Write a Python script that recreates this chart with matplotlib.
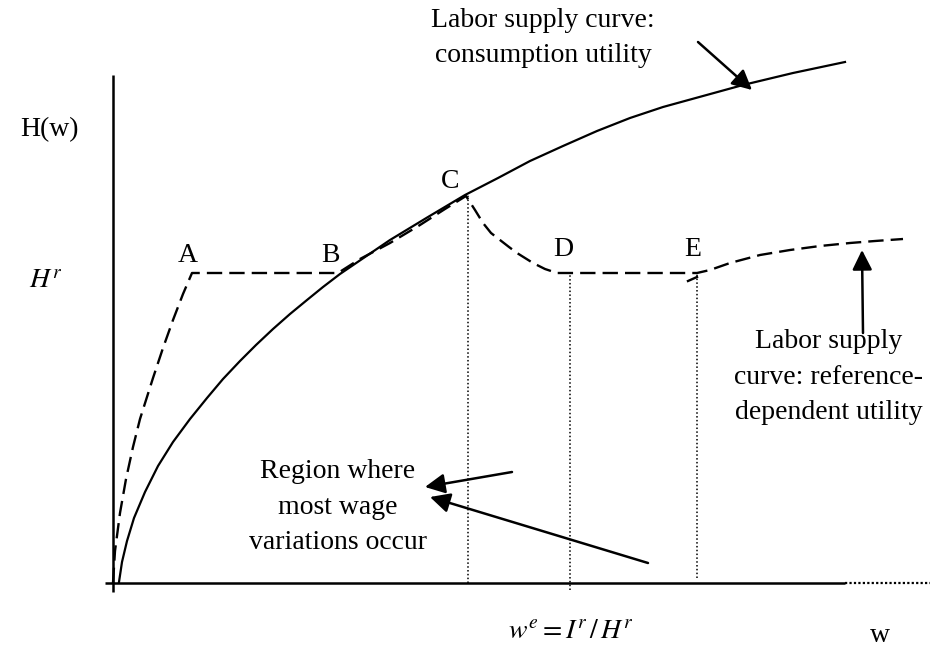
import matplotlib
matplotlib.use("Agg")
import matplotlib.pyplot as plt

plt.rcParams['font.family'] = ['Liberation Serif', 'DejaVu Serif']
plt.rcParams['mathtext.fontset'] = 'stix'

# ---- data (wage w, hours H) ----
consumption_w = [6, 9, 14, 21, 32, 45, 60, 77, 94, 110, 127, 143, 160, 177, 194, 210, 227, 252, 277,
                 315, 352, 385, 417, 450, 484, 517, 550, 590, 630, 680, 732]
consumption_H = [1, 21, 42, 65, 91, 117, 141, 164, 185, 204, 222, 238, 254, 269, 283, 296, 309, 326, 343,
                 366, 388, 405, 422, 437, 452, 465, 476, 487, 498, 510, 521]

reference_w = [0, 2, 7, 13, 20, 27, 40, 50, 60, 70, 79, 225, 247, 277, 307, 332, 353,
               362, 370, 378, 387, 396, 404, 420, 432, 444, 455, 584, 597, 617, 647, 677, 707, 737, 762, 790]
reference_H = [0, 32, 70, 104, 136, 164, 205, 235, 263, 289, 310, 310, 324, 340, 358, 374, 387,
               373, 360, 350, 343, 336, 330, 320, 314, 310, 310, 310, 313, 320, 328, 333, 337, 340, 342, 344]

stub_w = [575, 584]
stub_H = [302, 306]

# dotted guides: (w, top H, bottom H)
guide_w = [355, 457, 584]
guide_top = [388, 310, 310]
guide_bottom = [0, -7, 5]

point_labels = ['A', 'B', 'C', 'D', 'E']
point_w = [75, 217, 337, 450, 580]
point_H = [328, 328, 401, 333, 333]

fig = plt.figure(figsize=(9.42, 6.52), dpi=100)
ax = fig.add_axes([0, 0, 1, 1])
ax.set_xlim(-113, 829)
ax.set_ylim(-69, 583)
ax.axis('off')

# axes
ax.plot([0, 0], [-9, 508], color='black', lw=1.8, solid_capstyle='butt')
ax.plot([-8, 732], [0, 0], color='black', lw=1.8, solid_capstyle='butt')
ax.plot([732, 817], [0, 0], color='black', lw=1.6, linestyle=(0, (1, 1)))

# curves
ax.plot(consumption_w, consumption_H, color='black', lw=1.6)
ax.plot(reference_w, reference_H, color='black', lw=1.7, linestyle=(0, (6.5, 3)))
ax.plot(stub_w, stub_H, color='black', lw=1.7)

for gw, gt, gb in zip(guide_w, guide_top, guide_bottom):
    ax.plot([gw, gw], [gb, gt], color='black', lw=1.1, linestyle=(0, (1, 1.5)))

FS = 20
for lab, pw, ph in zip(point_labels, point_w, point_H):
    ax.text(pw, ph, lab, fontsize=FS, ha='center', va='center')

ax.text(-64, 453, 'H(w)', fontsize=FS, ha='center', va='center')
ax.text(-67, 301, '$H^r$', fontsize=FS, ha='center', va='center')
ax.text(767, -52, 'w', fontsize=FS, ha='center', va='center')
ax.text(458, -49, r'$w^e = I^r\,/\,H^r$', fontsize=FS, ha='center', va='center')

ax.text(430, 545, 'Labor supply curve:\nconsumption utility', fontsize=FS,
        ha='center', va='center', linespacing=1.55)
ax.text(716, 206, 'Labor supply\ncurve: reference-\ndependent utility', fontsize=FS,
        ha='center', va='center', linespacing=1.55)
ax.text(225, 76, 'Region where\nmost wage\nvariations occur', fontsize=FS,
        ha='center', va='center', linespacing=1.55)

arrow_kw = dict(arrowstyle='-|>', color='black', lw=1.8, mutation_scale=30,
                shrinkA=0, shrinkB=0)
ax.annotate('', xy=(639, 493), xytext=(585, 541), arrowprops=arrow_kw)
ax.annotate('', xy=(749, 333), xytext=(750, 250), arrowprops=arrow_kw)
ax.annotate('', xy=(312, 96), xytext=(399, 111), arrowprops=arrow_kw)
ax.annotate('', xy=(317, 86), xytext=(535, 20), arrowprops=arrow_kw)

fig.savefig('out.png', dpi=100)
